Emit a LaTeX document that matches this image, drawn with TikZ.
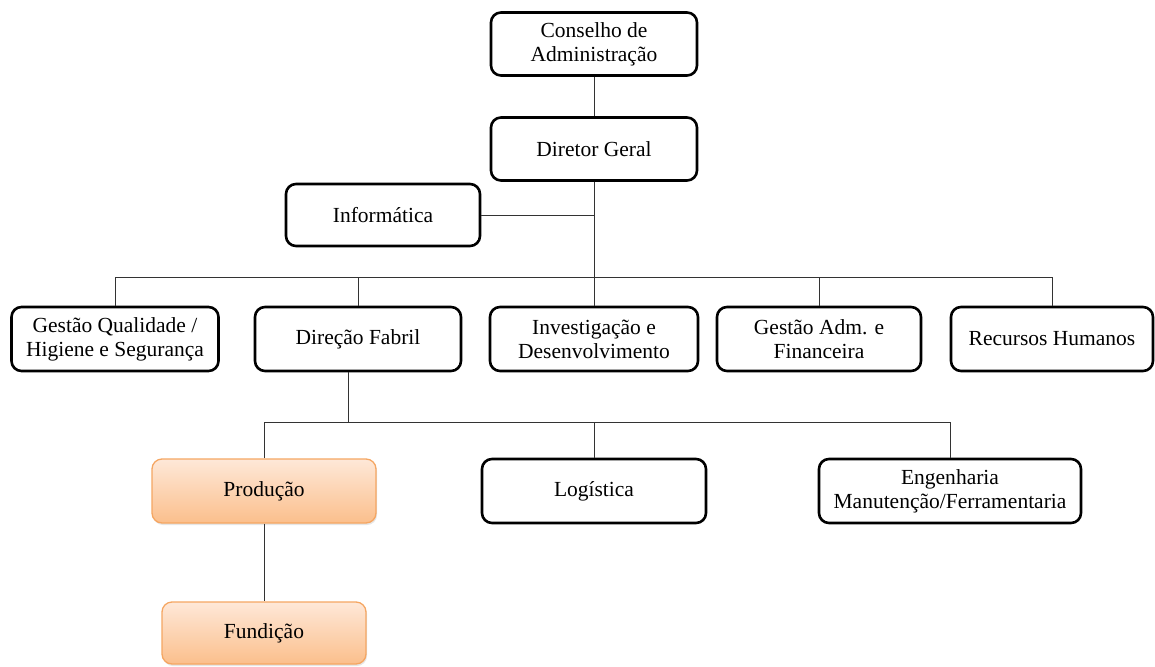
\documentclass[tikz,border=0pt]{standalone}
\usepackage{fontspec}
\setmainfont{Liberation Serif}
\usetikzlibrary{shadows}
\definecolor{obord}{HTML}{F5A662}
\definecolor{otop}{HTML}{FEE8D8}
\definecolor{obot}{HTML}{FBBF8C}
\definecolor{lin}{HTML}{333333}
\begin{document}
\begin{tikzpicture}[x=1pt,y=-1pt,
  box/.style={draw=black, line width=2.6pt, rounded corners=10pt, align=center,
    inner sep=0pt, font=\fontsize{21.5}{24}\selectfont, fill=white},
  obox/.style={draw=obord, line width=1.3pt, rounded corners=10pt, align=center,
    inner sep=0pt, font=\fontsize{21.5}{24}\selectfont, top color=otop, bottom color=obot,
    drop shadow={opacity=0.2, shadow xshift=1pt, shadow yshift=-2pt}},
  conn/.style={draw=lin, line width=1pt}]
\useasboundingbox (0,0) rectangle (1155,666);
\node[box, minimum width=206pt, minimum height=63pt] (cons) at (594,44) {Conselho de\\Administração};
\node[box, minimum width=206pt, minimum height=63pt] (dg) at (594,149) {Diretor Geral};
\node[box, minimum width=194pt, minimum height=62pt] (info) at (383,215) {Informática};
\node[box, minimum width=207pt, minimum height=64pt] (gq) at (115,339) {Gestão Qualidade /\\Higiene e Segurança};
\node[box, minimum width=206pt, minimum height=64pt] (df) at (358,339) {Direção Fabril};
\node[box, minimum width=208pt, minimum height=64pt] (inv) at (594,339) {Investigação e\\Desenvolvimento};
\node[box, minimum width=204pt, minimum height=64pt] (gaf) at (819,339) {Gestão Adm. e\\Financeira};
\node[box, minimum width=202pt, minimum height=64pt] (rh) at (1052,339) {Recursos Humanos};
\node[obox, minimum width=224pt, minimum height=64pt] (prod) at (264,491) {Produção};
\node[box, minimum width=224pt, minimum height=64pt] (log) at (594,491) {Logística};
\node[box, minimum width=262pt, minimum height=64pt] (eng) at (950,491) {Engenharia\\Manutenção/Ferramentaria};
\node[obox, minimum width=204pt, minimum height=62pt] (fund) at (264,633) {Fundição};
\coordinate (bus1) at (594,277);
\coordinate (bus2) at (348,422);
\draw[conn] (cons.south) -- (dg.north);
\draw[conn] (dg.south) -- (inv.north);
\draw[conn] (info.east) -- (info.east -| dg);
\draw[conn] (gq.north) -- (gq.north |- bus1) -- (rh.north |- bus1) -- (rh.north);
\draw[conn] (df.north) -- (df.north |- bus1);
\draw[conn] (gaf.north) -- (gaf.north |- bus1);
\draw[conn] (df.south -| bus2) -- (bus2);
\draw[conn] (prod.north) -- (prod.north |- bus2) -- (eng.north |- bus2) -- (eng.north);
\draw[conn] (log.north) -- (log.north |- bus2);
\draw[conn] (prod.south) -- (fund.north);
\end{tikzpicture}
\end{document}
